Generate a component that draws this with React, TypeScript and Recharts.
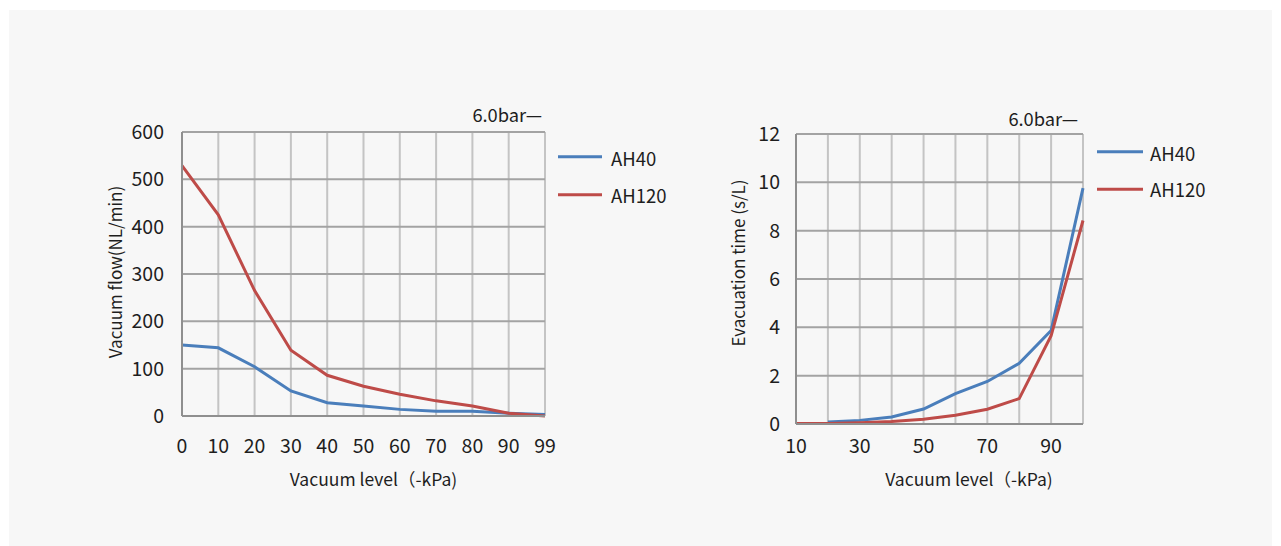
import React from 'react';
import { LineChart, Line, XAxis, YAxis, CartesianGrid, Legend } from 'recharts';

const leftCategories = ['0', '10', '20', '30', '40', '50', '60', '70', '80', '90', '99'];
const leftAH40 = [150, 144, 104, 53, 28, 21, 14, 10, 10, 6, 3];
const leftAH120 = [529, 425, 265, 139, 86, 63, 46, 32, 21, 6, 0];
const leftYTicks = [0, 100, 200, 300, 400, 500, 600];

const rightCategories = ['10', '20', '30', '40', '50', '60', '70', '80', '90', '100'];
const rightAH40: (number | null)[] = [null, 0.08, 0.15, 0.29, 0.62, 1.26, 1.76, 2.51, 3.87, 9.76];
const rightAH120 = [0.02, 0.02, 0.05, 0.1, 0.2, 0.36, 0.61, 1.05, 3.65, 8.42];
const rightYTicks = [0, 2, 4, 6, 8, 10, 12];

const seriesNames = ['AH40', 'AH120'];
const pressureNote = '6.0bar—';
const leftYTitle = 'Vacuum flow(NL/min)';
const rightYTitle = 'Evacuation time (s/L)';
const xTitle = 'Vacuum level（-kPa)';

const BLUE = '#4A7EBB';
const RED = '#BE4B48';
const seriesColors = [BLUE, RED];
const FONT = '"Noto Sans CJK SC", "Noto Sans", sans-serif';
const TXT = '#1e1e1e';

const leftData = leftCategories.map((c, i) => ({ x: c, AH40: leftAH40[i], AH120: leftAH120[i] }));
const rightData = rightCategories.map((c, i) => ({ x: c, AH40: rightAH40[i], AH120: rightAH120[i] }));

function makeLegend(x0: number, x1: number, tx: number, ys: number[], bs: number[]) {
  return (props: any) => {
    const payload = (props && props.payload) || [];
    const items = seriesNames.map((n, i) => {
      const found = payload.find((p: any) => p.value === n || p.dataKey === n);
      return { value: n, color: found ? found.color : seriesColors[i] };
    });
    return (
      <svg width={130} height={80} style={{ display: 'block', overflow: 'visible' }}>
        {items.map((p: any, i: number) => (
          <g key={i}>
            <line x1={x0} x2={x1} y1={ys[i]} y2={ys[i]} stroke={p.color} strokeWidth={3} />
            <text x={tx} y={bs[i]} fontSize={18.5} fill={TXT} fontFamily={FONT}>{p.value}</text>
          </g>
        ))}
      </svg>
    );
  };
}

function yTitle(text: string, dx: number, dy: number, size: number) {
  return (props: any) => {
    const vb = props.viewBox || {};
    const cx = vb.x + vb.width - dx;
    const cy = vb.y + vb.height / 2 + dy;
    return (
      <text x={cx} y={cy} transform={`rotate(-90 ${cx} ${cy})`} textAnchor="middle" dominantBaseline="central"
        fontSize={size} fill={TXT} fontFamily={FONT}>{text}</text>
    );
  };
}

function xTitleLabel(text: string, dx: number, dy: number) {
  return (props: any) => {
    const vb = props.viewBox || {};
    return (
      <text x={vb.x + vb.width / 2 + dx} y={vb.y + dy} textAnchor="middle" fontSize={17.5} fill={TXT} fontFamily={FONT}>{text}</text>
    );
  };
}

const tickStyle = { fontSize: 19.5, fill: TXT, fontFamily: FONT };

export default function App() {
  return (
    <div style={{ position: 'absolute', left: 0, top: 0, width: 1281, height: 546, background: '#ffffff', fontFamily: FONT }}>
      <div style={{ position: 'absolute', left: 9, top: 10, width: 1263, height: 536, background: '#f7f7f7' }} />
      <div style={{ position: 'absolute', left: 0, top: 0 }}>
        <LineChart width={640} height={546} data={leftData} margin={{ top: 132, right: 95, bottom: 100, left: 122 }}>
          <CartesianGrid horizontal={false} vertical={true} stroke="#c4c4c4" strokeWidth={2} />
          <CartesianGrid horizontal={true} vertical={false} stroke="#a3a3a3" strokeWidth={2} />
          <XAxis dataKey="x" height={30} tickSize={0} tickMargin={23} tick={tickStyle} interval={0}
            axisLine={{ stroke: '#8f8f8f', strokeWidth: 2 }}
            label={{ content: xTitleLabel(xTitle, 10, 70) } as any} />
          <YAxis width={60} domain={[0, 600]} ticks={leftYTicks} tickSize={0} tickMargin={18} tick={tickStyle}
            axisLine={{ stroke: '#8f8f8f', strokeWidth: 2 }}
            label={{ content: yTitle(leftYTitle, 68, -2, 17) } as any} />
          <Legend layout="vertical" align="center" verticalAlign="middle"
            wrapperStyle={{ position: 'absolute', left: 550, top: 140, width: 130, height: 80 }}
            content={makeLegend(8, 52, 61, [16.7, 54.7], [25.9, 62.5])} />
          <Line type="linear" dataKey="AH40" name="AH40" stroke={BLUE} strokeWidth={3} dot={false} isAnimationActive={false} />
          <Line type="linear" dataKey="AH120" name="AH120" stroke={RED} strokeWidth={3} dot={false} isAnimationActive={false} />
        </LineChart>
      </div>
      <div style={{ position: 'absolute', left: 640, top: 0 }}>
        <LineChart width={641} height={546} data={rightData} margin={{ top: 134, right: 198, bottom: 92, left: 96 }}>
          <CartesianGrid horizontal={false} vertical={true} stroke="#c4c4c4" strokeWidth={2} />
          <CartesianGrid horizontal={true} vertical={false} stroke="#a3a3a3" strokeWidth={2} />
          <XAxis dataKey="x" height={30} tickSize={0} tickMargin={15} tick={tickStyle} interval={0}
            tickFormatter={(v: any, i: number) => (i % 2 === 0 ? v : '')}
            axisLine={{ stroke: '#8f8f8f', strokeWidth: 2 }}
            label={{ content: xTitleLabel(xTitle, 29.5, 62) } as any} />
          <YAxis width={60} domain={[0, 12]} ticks={rightYTicks} tickSize={0} tickMargin={16} tick={tickStyle}
            axisLine={{ stroke: '#8f8f8f', strokeWidth: 2 }}
            label={{ content: yTitle(rightYTitle, 59, -16, 17) } as any} />
          <Legend layout="vertical" align="center" verticalAlign="middle"
            wrapperStyle={{ position: 'absolute', left: 450, top: 135, width: 130, height: 80 }}
            content={makeLegend(7, 53, 60, [16.7, 54.3], [25.9, 61.9])} />
          <Line type="linear" dataKey="AH40" name="AH40" stroke={BLUE} strokeWidth={3} dot={false} isAnimationActive={false} />
          <Line type="linear" dataKey="AH120" name="AH120" stroke={RED} strokeWidth={3} dot={false} isAnimationActive={false} />
        </LineChart>
      </div>
      <svg width={1281} height={546} style={{ position: 'absolute', left: 0, top: 0, pointerEvents: 'none' }}>
        <text x={542} y={121.7} textAnchor="end" fontSize={18.3} fill={TXT} fontFamily={FONT}>{pressureNote}</text>
        <text x={1078} y={126} textAnchor="end" fontSize={18.3} fill={TXT} fontFamily={FONT}>{pressureNote}</text>
      </svg>
    </div>
  );
}
